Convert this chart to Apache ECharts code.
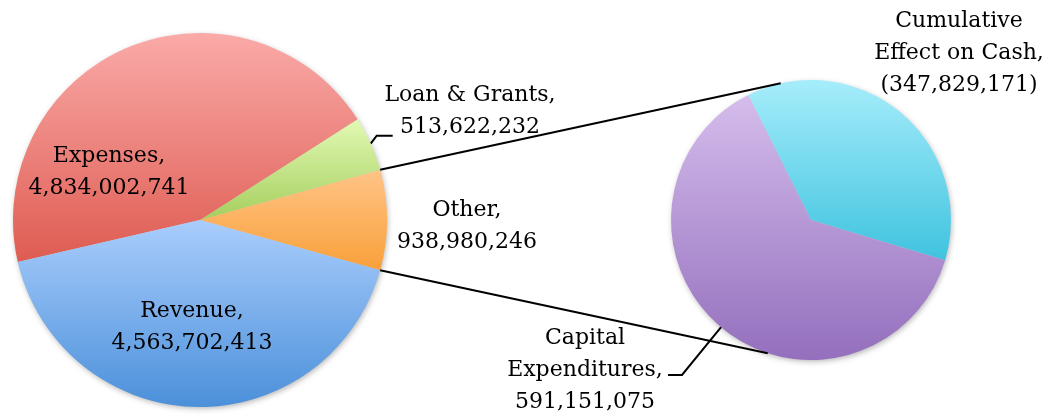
<!DOCTYPE html>
<html><head><meta charset="utf-8">
<script src="https://cdn.jsdelivr.net/npm/echarts@6/dist/echarts.min.js"></script>
<style>html,body{margin:0;padding:0;background:#fff}#c{width:1049px;height:417px}</style>
</head><body><div id="c"></div>
<script>
// ---- data ----
const mainNames = ['Loan & Grants', 'Expenses', 'Revenue'];
const mainValues = [513622232, 4834002741, 4563702413];
const otherName = 'Other';
const subNames = ['Cumulative Effect on Cash', 'Capital Expenditures'];
const subLabels = ['Cumulative\nEffect on Cash', 'Capital\nExpenditures'];
const subValues = [-347829171, 591151075];

// ---- layout / style ----
const C1 = [200, 220], R1 = 187;
const C2 = [811, 220], R2 = 140;
const FONT = 'DejaVu Serif';
const fmt = v => v < 0 ? '(' + Math.abs(v).toLocaleString('en-US') + ')' : v.toLocaleString('en-US');
const grad = (a, b) => ({type: 'linear', x: 0, y: 0, x2: 0, y2: 1, colorStops: [{offset: 0, color: a}, {offset: 1, color: b}]});

const otherValue = subValues.reduce((s, v) => s + Math.abs(v), 0);
const total = otherValue + mainValues.reduce((s, v) => s + v, 0);
const otherDeg = otherValue / total * 360;
const startMain = -otherDeg / 2;
const subStart = -16.7;

const mainColors = [grad('#e2f9b4', '#a5cf5e'), grad('#faaaa8', '#de5c52'), grad('#aacdfc', '#4b90da')];
const otherColor = grad('#ffc486', '#f9a03a');
const subColors = [grad('#a6edfb', '#3fc3df'), grad('#d5bdec', '#946fbd')];

const leftData = [{name: otherName, value: otherValue, itemStyle: {color: otherColor}, labelLine: {show: false}}]
  .concat(mainNames.map((n, i) => ({name: n, value: mainValues[i], itemStyle: {color: mainColors[i]}, labelLine: {show: i === 0}})));
const rightData = subNames.map((n, i) => ({name: n, value: Math.abs(subValues[i]), raw: subValues[i], lbl: subLabels[i],
  itemStyle: {color: subColors[i]}, labelLine: {show: i === 1}}));

const pt = (c, r, deg) => [c[0] + r * Math.cos(deg * Math.PI / 180), c[1] - r * Math.sin(deg * Math.PI / 180)];

// label centers
const leftLabelPos = {0: [467, 226], 1: [470, 111], 2: [109, 172], 3: [192, 327]};
const rightLabelPos = {0: [959, 53], 1: [585, 370]};

function midAngles(values, start) {
  const tot = values.reduce((s, v) => s + v, 0);
  let a = start; return values.map(v => { const d = v / tot * 360; const m = a + d / 2; a += d; return m; });
}
const leftMids = midAngles(leftData.map(d => d.value), startMain);
const rightMids = midAngles(rightData.map(d => d.value), subStart);

const textStyle = {fontFamily: FONT, fontSize: 22, lineHeight: 32, color: '#000', align: 'center', verticalAlign: 'middle'};
const shadow = {shadowBlur: 6, shadowColor: 'rgba(0,0,0,0.35)', shadowOffsetX: 1, shadowOffsetY: 2, fill: '#ccc'};

const p1 = pt(C1, R1, startMain), p2 = pt(C1, R1, -startMain);
const q1 = pt(C2, R2, 102.5), q2 = pt(C2, R2, 252);

const chart = echarts.init(document.getElementById('c'), null, {renderer: 'canvas'});
chart.setOption({
  animation: false,
  series: [{
    type: 'pie', center: C1, radius: R1, startAngle: startMain, clockwise: false,
    avoidLabelOverlap: false, emphasis: {disabled: true},
    itemStyle: {borderWidth: 0},
    data: leftData,
    label: Object.assign({show: true, position: 'outside', formatter: p => p.name + ',\n' + fmt(p.value)}, textStyle),
    labelLine: {show: true, lineStyle: {color: '#000', width: 2}},
    labelLayout: p => {
      const i = p.dataIndex, c = leftLabelPos[i];
      const r = {x: c[0], y: c[1], align: 'center', verticalAlign: 'middle'};
      if (i === 1) { const e = pt(C1, R1, leftMids[1]); r.labelLinePoints = [e, [e[0] + 6, e[1] - 8], [e[0] + 22, e[1] - 8]]; }
      return r;
    }
  }, {
    type: 'pie', center: C2, radius: R2, startAngle: subStart, clockwise: false,
    avoidLabelOverlap: false, emphasis: {disabled: true},
    itemStyle: {borderWidth: 0},
    data: rightData,
    label: Object.assign({show: true, position: 'outside', formatter: p => p.data.lbl + ',\n' + fmt(p.data.raw)}, textStyle),
    labelLine: {show: true, lineStyle: {color: '#000', width: 2}},
    labelLayout: p => {
      const i = p.dataIndex, c = rightLabelPos[i];
      const r = {x: c[0], y: c[1], align: 'center', verticalAlign: 'middle'};
      if (i === 1) { const e = pt(C2, R2 - 4, rightMids[1]); r.labelLinePoints = [e, [682, 375], [668, 375]]; }
      return r;
    }
  }],
  graphic: [
    {type: 'circle', z: -10, silent: true, shape: {cx: C1[0], cy: C1[1], r: R1 - 1}, style: shadow},
    {type: 'circle', z: -10, silent: true, shape: {cx: C2[0], cy: C2[1], r: R2 - 1}, style: shadow},
    {type: 'line', z: 100, shape: {x1: p2[0], y1: p2[1], x2: q1[0], y2: q1[1]}, style: {stroke: '#000', lineWidth: 2}},
    {type: 'line', z: 100, shape: {x1: p1[0], y1: p1[1], x2: q2[0], y2: q2[1]}, style: {stroke: '#000', lineWidth: 2}}
  ]
});
</script></body></html>
